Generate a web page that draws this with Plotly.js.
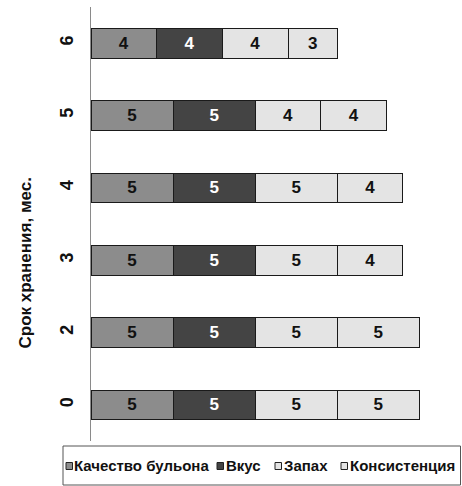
<!DOCTYPE html>
<html>
<head>
<meta charset="utf-8">
<script src="https://cdn.plot.ly/plotly-3.0.1.min.js"></script>
<style>
  html, body { margin: 0; padding: 0; background: #fff; }
  #chart { width: 462px; height: 486px; }
</style>
</head>
<body>
<div id="chart"></div>
<script>
// Storage time (months) and sensory scores per attribute
const months = ['0', '2', '3', '4', '5', '6'];
const brothQuality = [5, 5, 5, 5, 5, 4];
const taste = [5, 5, 5, 5, 5, 4];
const smell = [5, 5, 5, 5, 4, 4];
const consistency = [5, 5, 4, 4, 4, 3];
const seriesNames = ['Качество бульона', 'Вкус', 'Запах', 'Консистенция'];
const axisTitle = 'Срок хранения, мес.';

const seriesValues = [brothQuality, taste, smell, consistency];
const fills = ['#8c8c8c', '#444444', '#e4e4e4', '#e4e4e4'];
const textColors = ['#111111', '#ffffff', '#111111', '#111111'];

const font = '"Liberation Sans", Arial, sans-serif';

const W = 462, H = 486;
const M = { l: 91, r: 5, t: 7, b: 45 };
const plotW = W - M.l - M.r, plotH = H - M.t - M.b;
const pxPerUnit = 16.42;

const traces = seriesValues.map((vals, i) => ({
  type: 'bar',
  orientation: 'h',
  name: seriesNames[i],
  y: months,
  x: vals,
  text: vals.map(String),
  textposition: 'inside',
  insidetextanchor: 'middle',
  textangle: 0,
  constraintext: 'none',
  textfont: { family: font, size: 17, color: textColors[i], weight: 'bold' },
  marker: { color: fills[i], line: { color: '#1a1a1a', width: 1 } },
  hoverinfo: 'skip',
  showlegend: false
}));

// Pixel -> paper coordinate helpers for the legend row and axis title
const px2x = px => (px - M.l) / plotW;
const py2y = py => (H - M.b - py) / plotH;
const legendSquareX = [66, 217, 275, 341];
const legendTextX = [73, 225, 283, 349];
const legendMidY = 466;

const shapes = [{
  type: 'rect', xref: 'paper', yref: 'paper',
  x0: px2x(63), x1: px2x(460.5), y0: py2y(446), y1: py2y(485),
  line: { color: '#555555', width: 1 }, fillcolor: 'rgba(0,0,0,0)'
}];
const annotations = [];
seriesNames.forEach((name, i) => {
  shapes.push({
    type: 'rect', xref: 'paper', yref: 'paper',
    x0: px2x(legendSquareX[i]), x1: px2x(legendSquareX[i] + 6.5),
    y0: py2y(legendMidY + 3.5), y1: py2y(legendMidY - 3.5),
    line: { color: '#222222', width: 1 }, fillcolor: fills[i]
  });
  annotations.push({
    xref: 'paper', yref: 'paper',
    x: px2x(legendTextX[i]), y: py2y(legendMidY),
    xanchor: 'left', yanchor: 'middle',
    text: name, showarrow: false, borderpad: 0,
    font: { family: font, size: 15, color: '#111111', weight: 'bold' }
  });
});

// Rotated y-axis title
annotations.push({
  xref: 'paper', yref: 'paper',
  x: px2x(24.5), y: py2y(263),
  xanchor: 'center', yanchor: 'middle',
  text: axisTitle, textangle: -90, showarrow: false,
  font: { family: font, size: 17, color: '#111111', weight: 'bold' }
});

const layout = {
  width: W, height: H,
  margin: M,
  barmode: 'stack',
  bargap: 0.59,
  paper_bgcolor: '#ffffff',
  plot_bgcolor: '#ffffff',
  showlegend: false,
  xaxis: {
    range: [0, plotW / pxPerUnit],
    showgrid: false, zeroline: false, showline: false,
    showticklabels: false, ticks: '', fixedrange: true
  },
  yaxis: {
    type: 'category',
    categoryorder: 'array', categoryarray: months,
    showgrid: false, zeroline: false,
    showline: true, linecolor: '#8a8a8a', linewidth: 1.5,
    ticks: '', tickangle: -90, ticklabelstandoff: 9,
    tickfont: { family: font, size: 18, color: '#111111', weight: 'bold' },
    automargin: false, fixedrange: true
  },
  shapes: shapes,
  annotations: annotations
};

Plotly.newPlot('chart', traces, layout, { displayModeBar: false, staticPlot: true });
</script>
</body>
</html>
